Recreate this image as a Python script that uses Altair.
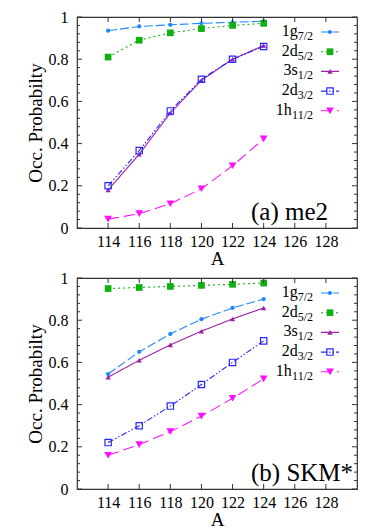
import altair as alt
import pandas as pd

A = [114, 116, 118, 120, 122, 124]
series = ["1g7/2", "2d5/2", "3s1/2", "2d3/2", "1h11/2"]
main_txt = ["1g", "2d", "3s", "2d", "1h"]
sub_txt = ["7/2", "5/2", "1/2", "3/2", "11/2"]

me2 = {
    "1g7/2": [0.935, 0.955, 0.963, 0.970, 0.975, 0.980],
    "2d5/2": [0.810, 0.890, 0.925, 0.945, 0.960, 0.970],
    "3s1/2": [0.180, 0.350, 0.545, 0.700, 0.800, 0.865],
    "2d3/2": [0.200, 0.367, 0.555, 0.705, 0.800, 0.860],
    "1h11/2": [0.042, 0.068, 0.115, 0.186, 0.295, 0.422],
}
skm = {
    "1g7/2": [0.545, 0.650, 0.735, 0.805, 0.858, 0.900],
    "2d5/2": [0.950, 0.955, 0.960, 0.965, 0.970, 0.976],
    "3s1/2": [0.530, 0.610, 0.683, 0.748, 0.806, 0.858],
    "2d3/2": [0.220, 0.300, 0.393, 0.495, 0.600, 0.702],
    "1h11/2": [0.160, 0.210, 0.272, 0.345, 0.430, 0.522],
}

y_major = [0, 0.2, 0.4, 0.6, 0.8, 1.0]
y_minor = [round(i * 0.04, 2) for i in range(26) if i % 5 != 0]
x_major = [114, 116, 118, 120, 122, 124, 126, 128]

colors = ["#1e88ff", "#10b010", "#a020a8", "#2828ff", "#ff10ff"]
dashes = [[9, 3], [2, 3], [1, 0], [6, 2, 1.5, 2, 1.5, 2], [11, 5]]
shapes = ["circle", "square", "triangle-up", "square", "triangle-down"]
filled = [True, True, True, False, True]
sizes = [18, 45, 28, 40, 60]

FONT = "Liberation Serif"
W, H = 280, 211
sub_w = [15.3, 15.3, 15.3, 15.3, 21.3]

xs = alt.Scale(domain=[112, 130], nice=False, zero=False)
ys = alt.Scale(domain=[0, 1], nice=False)

ax_common = dict(ticks=False, domain=False, grid=False, labelOverlap=False,
                 labelFont=FONT, labelFontSize=16, labelColor="black",
                 titleFont=FONT, titleFontSize=19, titleFontWeight="normal",
                 titleColor="black")
AX = alt.Axis(values=x_major, format="d", labelPadding=5, titlePadding=0, **ax_common)
AY = alt.Axis(values=y_major, format="~g", labelPadding=9, titlePadding=3, **ax_common)


def X(f):
    return alt.X(f, scale=xs, title="A", axis=AX)


def Y(f):
    return alt.Y(f, scale=ys, title="Occ. Probabilty", axis=AY)


def panel(data, label):
    layers = []
    for i, s in enumerate(series):
        df = pd.DataFrame({"A": A, "p": data[s]})
        base = alt.Chart(df)
        layers.append(base.mark_line(color=colors[i], strokeDash=dashes[i], strokeWidth=1.1)
                      .encode(x=X("A:Q"), y=Y("p:Q")))
        layers.append(base.mark_point(shape=shapes[i], filled=filled[i], size=sizes[i],
                                      color=colors[i], opacity=1, strokeWidth=1.2)
                      .encode(x=X("A:Q"), y=Y("p:Q")))

    one = pd.DataFrame({"k": [0]})
    # inward ticks
    ymaj = pd.DataFrame({"v": y_major})
    ymin = pd.DataFrame({"v": y_minor})
    xmaj = pd.DataFrame({"v": x_major})
    tick = dict(color="#333333", strokeWidth=1)
    for d, ln in ((ymaj, 5), (ymin, 3)):
        layers.append(alt.Chart(d).mark_rule(**tick).encode(
            y=Y("v:Q"), x=alt.value(0), x2=alt.value(ln)))
        layers.append(alt.Chart(d).mark_rule(**tick).encode(
            y=Y("v:Q"), x=alt.value(W - ln), x2=alt.value(W)))
    layers.append(alt.Chart(xmaj).mark_rule(**tick).encode(
        x=X("v:Q"), y=alt.value(H), y2=alt.value(H - 5)))
    layers.append(alt.Chart(xmaj).mark_rule(**tick).encode(
        x=X("v:Q"), y=alt.value(0), y2=alt.value(5)))

    # legend
    for i, s in enumerate(series):
        yp = 15 + 19.7 * i
        layers.append(alt.Chart(one).mark_rule(color=colors[i], strokeDash=dashes[i],
                                               strokeWidth=1.1)
                      .encode(x=alt.value(244), x2=alt.value(262), y=alt.value(yp)))
        layers.append(alt.Chart(one).mark_point(shape=shapes[i], filled=filled[i],
                                                size=sizes[i], color=colors[i], opacity=1,
                                                strokeWidth=1.2)
                      .encode(x=alt.value(253), y=alt.value(yp)))
        layers.append(alt.Chart(one).mark_text(text=main_txt[i], align="right",
                                               baseline="middle", font=FONT, fontSize=16,
                                               color="black")
                      .encode(x=alt.value(236 - sub_w[i]), y=alt.value(yp - 1)))
        layers.append(alt.Chart(one).mark_text(text=sub_txt[i], align="right",
                                               baseline="middle", font=FONT, fontSize=12,
                                               color="black")
                      .encode(x=alt.value(236), y=alt.value(yp + 4)))

    layers.append(alt.Chart(one).mark_text(text=label, align="left", baseline="middle",
                                           font=FONT, fontSize=25, color="black")
                  .encode(x=alt.value(174), y=alt.value(H - 16)))
    return alt.layer(*layers).properties(width=W, height=H)


chart = alt.vconcat(panel(me2, "(a) me2"), panel(skm, "(b) SKM*"), spacing=0).properties(
    padding={"left": 17, "top": 0, "right": 5, "bottom": 0}
).configure(
    background="white",
    style={"guide-label": {"font": FONT, "fontSize": 16, "fill": "black"},
           "guide-title": {"font": FONT, "fontSize": 19, "fontWeight": "normal"}},
).configure_view(
    stroke="#333333", strokeWidth=1.2
).configure_axis(
    labelFont=FONT, titleFont=FONT, labelFontSize=16, titleFontSize=19,
    titleFontWeight="normal", labelColor="black", titleColor="black", labelOverlap=False
)

chart.save("out.html", embed_options={"renderer": "svg", "actions": False})
